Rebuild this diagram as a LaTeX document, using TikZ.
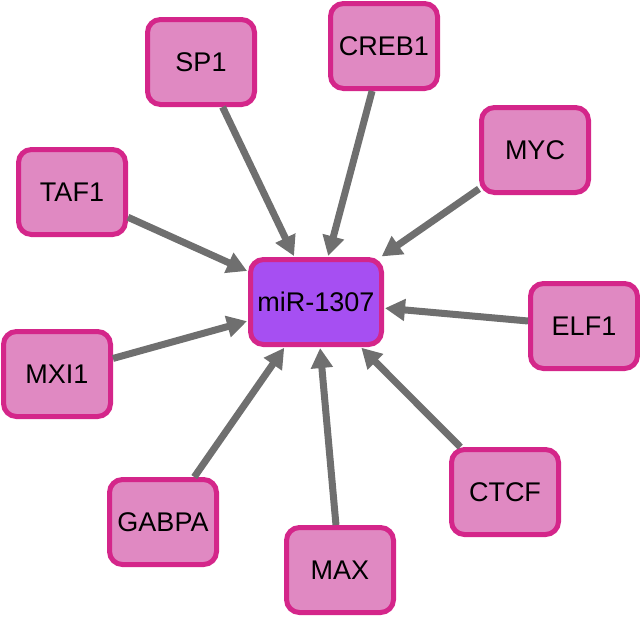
\documentclass[tikz,border=0pt]{standalone}
\usepackage{fontspec}
\setmainfont{Liberation Sans}
\usetikzlibrary{arrows.meta}
\definecolor{boxfill}{HTML}{E089C2}
\definecolor{boxline}{HTML}{D4268A}
\definecolor{hubfill}{HTML}{A64FF2}
\definecolor{edgegray}{HTML}{6F6F6F}
\begin{document}
\begin{tikzpicture}[x=1pt,y=-1pt,
  tf/.style={draw=boxline, fill=boxfill, line width=5pt, rounded corners=13pt,
    minimum width=107pt, minimum height=85pt, inner sep=0pt, font=\fontsize{27}{27}\selectfont},
  hub/.style={tf, fill=hubfill, minimum width=131pt},
  edge/.style={draw=edgegray, line width=7pt, -{Triangle[length=20pt,width=21pt]}, shorten >=1pt}]
\useasboundingbox (0,0) rectangle (640,616);
\node[hub] (mir) at (316,302) {miR-1307};
\node[tf] (sp1) at (201,62) {SP1};
\node[tf] (creb1) at (384,46) {CREB1};
\node[tf] (myc) at (535,150) {MYC};
\node[tf] (taf1) at (72,192) {TAF1};
\node[tf] (elf1) at (584,326) {ELF1};
\node[tf] (mxi1) at (57,374) {MXI1};
\node[tf] (ctcf) at (505,492) {CTCF};
\node[tf] (gabpa) at (163,522) {GABPA};
\node[tf] (max) at (340,570) {MAX};
\foreach \s in {sp1,creb1,myc,taf1,elf1,mxi1,ctcf,gabpa,max}
  \draw[edge] (\s) -- (mir);
\end{tikzpicture}
\end{document}
